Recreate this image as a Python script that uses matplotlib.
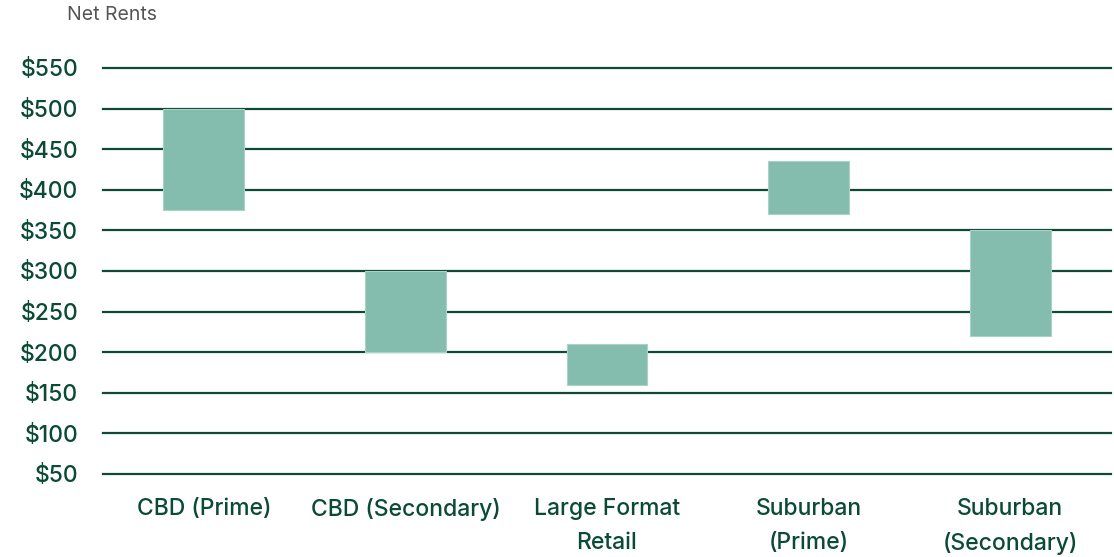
import numpy as np
import matplotlib.pyplot as plt

categories = ['CBD (Prime)', 'CBD (Secondary)', 'Large Format\nRetail',
              'Suburban\n(Prime)', 'Suburban\n(Secondary)']
low = [375, 200, 160, 370, 220]
high = [500, 300, 210, 435, 350]
yticks = [50, 100, 150, 200, 250, 300, 350, 400, 450, 500, 550]

dark = '#0b4a35'
teal = '#84bcad'

plt.rcParams['font.family'] = ['Inter', 'DejaVu Sans']

W, H = 1114, 557
fig = plt.figure(figsize=(W / 100, H / 100), dpi=100)
ax = fig.add_axes([103 / W, 1 - 474 / H, (1111 - 103) / W, (474 - 68) / H])

x = np.arange(len(categories))
for yv in yticks:
    ax.axhline(yv, color=dark, lw=1.6, clip_on=False, zorder=1)

ax.bar(x, np.array(high) - np.array(low), bottom=low, width=0.4,
       color=teal, edgecolor='#a9d3c7', linewidth=0.8, zorder=2)

ax.set_xlim(-0.5, len(categories) - 0.5)
ax.set_ylim(50, 550)
ax.set_yticks(yticks)
ax.set_yticklabels(['$%d' % v for v in yticks], fontsize=16.5, color=dark,
                   fontweight='medium')
ax.set_xticks(x)
ax.set_xticklabels(categories, fontsize=16.5, color=dark, fontweight='medium',
                   linespacing=1.7, va='top')
ax.tick_params(axis='y', length=0, pad=18)
ax.tick_params(axis='x', length=0, pad=17)
for s in ax.spines.values():
    s.set_visible(False)

fig.text(67 / W, 1 - 15 / H, 'Net Rents', fontsize=14, color='#555555',
         va='center', ha='left')

fig.savefig('out.png', dpi=100)
